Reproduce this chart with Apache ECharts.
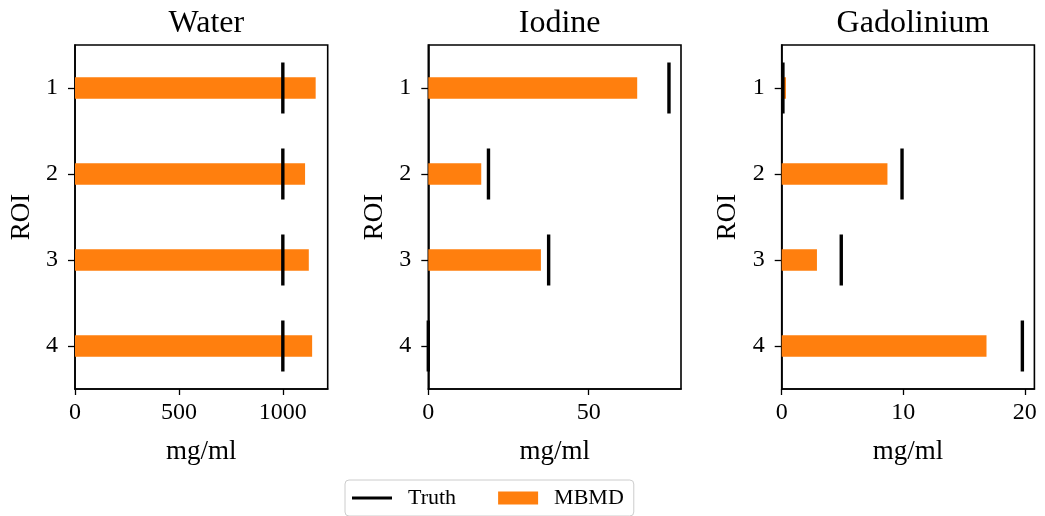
<!DOCTYPE html>
<html>
<head>
<meta charset="utf-8">
<script src="https://cdn.jsdelivr.net/npm/echarts@6/dist/echarts.min.js"></script>
<style>
  html, body { margin: 0; padding: 0; background: #fff; }
  #chart { width: 1045px; height: 516px; }
</style>
</head>
<body>
<div id="chart"></div>
<script>
// data
const roi = ['1', '2', '3', '4']
const titles = ['Water', 'Iodine', 'Gadolinium']
const waterMBMD = [1158, 1107, 1125, 1141]
const waterTruth = [1000, 1000, 1000, 1000]
const iodineMBMD = [65.1, 16.5, 35.1, 0]
const iodineTruth = [75, 18.75, 37.5, 0]
const gadMBMD = [0.35, 8.7, 2.9, 16.85]
const gadTruth = [0.1, 9.9, 4.9, 19.8]
const tickStep = [500, 50, 10]

const mbmd = [waterMBMD, iodineMBMD, gadMBMD]
const truth = [waterTruth, iodineTruth, gadTruth]

const font = 'Liberation Serif'
const gridLeft = [75, 428.3, 781.7]
const gridW = 252.7

let grids = [], xAxes = [], yAxes = [], series = [], titleList = []

titles.forEach((t, i) => {
    grids.push({
        left: gridLeft[i], top: 45, width: gridW, height: 344,
        show: true, borderColor: '#000', borderWidth: 1.6, backgroundColor: 'transparent'
    })
    titleList.push({
        text: t,
        left: gridLeft[i] + gridW / 2,
        top: 3,
        textAlign: 'center',
        textStyle: { fontFamily: font, fontSize: 32, fontWeight: 'normal', color: '#000' }
    })
    // matplotlib style auto limit: 5% margin above the largest value
    let top = Math.max(...mbmd[i], ...truth[i]) * 1.05
    xAxes.push({
        type: 'value', gridIndex: i, min: 0, max: top, interval: tickStep[i],
        name: 'mg/ml', nameLocation: 'middle', nameGap: 49,
        nameTextStyle: { fontFamily: font, fontSize: 27, color: '#000' },
        axisLine: { show: true, lineStyle: { color: '#000', width: 1.6 } },
        axisTick: { show: true, length: 6, lineStyle: { color: '#000', width: 1.3 } },
        axisLabel: {
            fontFamily: font, fontSize: 24, color: '#000', margin: 12,
            showMaxLabel: false,
            formatter: v => (v % tickStep[i] === 0 ? String(v) : '')
        },
        splitLine: { show: false }
    })
    yAxes.push({
        type: 'category', gridIndex: i, data: roi, inverse: true,
        name: 'ROI', nameLocation: 'middle', nameGap: 40, nameRotate: 90,
        nameTextStyle: { fontFamily: font, fontSize: 27, color: '#000' },
        axisLine: { show: true, lineStyle: { color: '#000', width: 1.6 } },
        axisTick: { show: true, alignWithLabel: true, length: 7, lineStyle: { color: '#000', width: 1.3 } },
        axisLabel: { fontFamily: font, fontSize: 24, color: '#000', margin: 17 }
    })
    series.push({
        name: 'MBMD', type: 'bar', xAxisIndex: i, yAxisIndex: i,
        data: mbmd[i], barWidth: '25%',
        itemStyle: { color: '#ff7f0e' }
    })
    series.push({
        name: 'Truth', type: 'scatter', xAxisIndex: i, yAxisIndex: i,
        data: truth[i].map((v, k) => [v, roi[k]]),
        symbol: 'rect', symbolSize: [3.4, 51], clip: false,
        itemStyle: { color: '#000', opacity: 1 }, z: 5
    })
})

const chart = echarts.init(document.getElementById('chart'))
chart.setOption({
    animation: false,
    title: titleList,
    grid: grids,
    xAxis: xAxes,
    yAxis: yAxes,
    legend: {
        left: 345, top: 480,
        padding: [7, 10, 7, 7],
        itemWidth: 40, itemHeight: 13, itemGap: 42,
        borderColor: '#ccc', borderWidth: 1, borderRadius: 4,
        textStyle: { fontFamily: font, fontSize: 22, color: '#000', padding: [0, 0, 0, 11] },
        data: [
            { name: 'Truth', icon: 'path://M0,0M0,5h40v3h-40zM40,13' },
            { name: 'MBMD', icon: 'rect' }
        ]
    },
    series: series
})
</script>
</body>
</html>
